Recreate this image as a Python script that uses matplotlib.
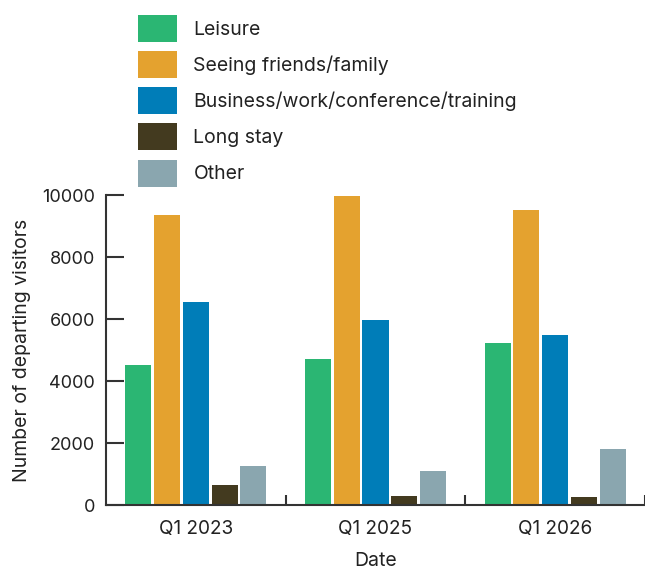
import matplotlib
matplotlib.use("Agg")
import matplotlib.pyplot as plt
import numpy as np

plt.rcParams['font.family'] = ['Inter', 'DejaVu Sans']

categories = ["Q1 2023", "Q1 2025", "Q1 2026"]
series_names = ["Leisure", "Seeing friends/family", "Business/work/conference/training", "Long stay", "Other"]
leisure = [4520, 4710, 5230]
friends_family = [9350, 9970, 9520]
business = [6550, 5970, 5490]
long_stay = [650, 290, 260]
other = [1260, 1100, 1810]
colors = ["#2BB673", "#E4A22F", "#007DB8", "#433A1F", "#8AA6AF"]
yticks = [0, 2000, 4000, 6000, 8000, 10000]

series = [leisure, friends_family, business, long_stay, other]

fig = plt.figure(figsize=(6.45, 5.66), dpi=100)
ax = fig.add_axes([106/645, 1 - 505/566, 1 - 106/645, (505 - 195)/566])

x = np.arange(len(categories))
step = 0.16
width = 0.145
handles = []
for i, (vals, name, c) in enumerate(zip(series, series_names, colors)):
    b = ax.bar(x + (i - 2) * step, vals, width=width, color=c, label=name)
    handles.append(b)

ax.set_xlim(-0.5, len(categories) - 0.5)
ax.set_ylim(0, 10000)
ax.set_yticks(yticks)
ax.set_yticklabels([str(t) for t in yticks], fontsize=13, color="#222222")
ax.set_xticks(x)
ax.set_xticklabels(categories, fontsize=13.7, color="#222222")
ax.tick_params(axis='x', length=0, pad=11)
ax.set_xticks(np.arange(0.5, len(categories), 1.0), minor=True)
ax.tick_params(axis='x', which='minor', direction='in', length=7, width=1.5, color="#333333")
ax.tick_params(axis='y', direction='in', length=13, width=1.5, color="#333333", pad=8)

for s in ['top', 'right']:
    ax.spines[s].set_visible(False)
ax.spines['left'].set_linewidth(1.5)
ax.spines['left'].set_color("#333333")
ax.spines['bottom'].set_linewidth(1.5)
ax.spines['bottom'].set_color("#333333")

ax.set_ylabel("Number of departing visitors", fontsize=14, color="#222222", labelpad=8)
ax.set_xlabel("Date", fontsize=14, color="#222222", labelpad=10)

fig.legend(handles=handles, labels=series_names, loc='upper left',
           bbox_to_anchor=(138/645, 1 - 15/566), frameon=False, fontsize=14,
           borderpad=0, borderaxespad=0, handlelength=2.0, handleheight=1.76,
           handletextpad=0.85, labelspacing=0.47, labelcolor="#222222")

fig.savefig("out.png", dpi=100)
